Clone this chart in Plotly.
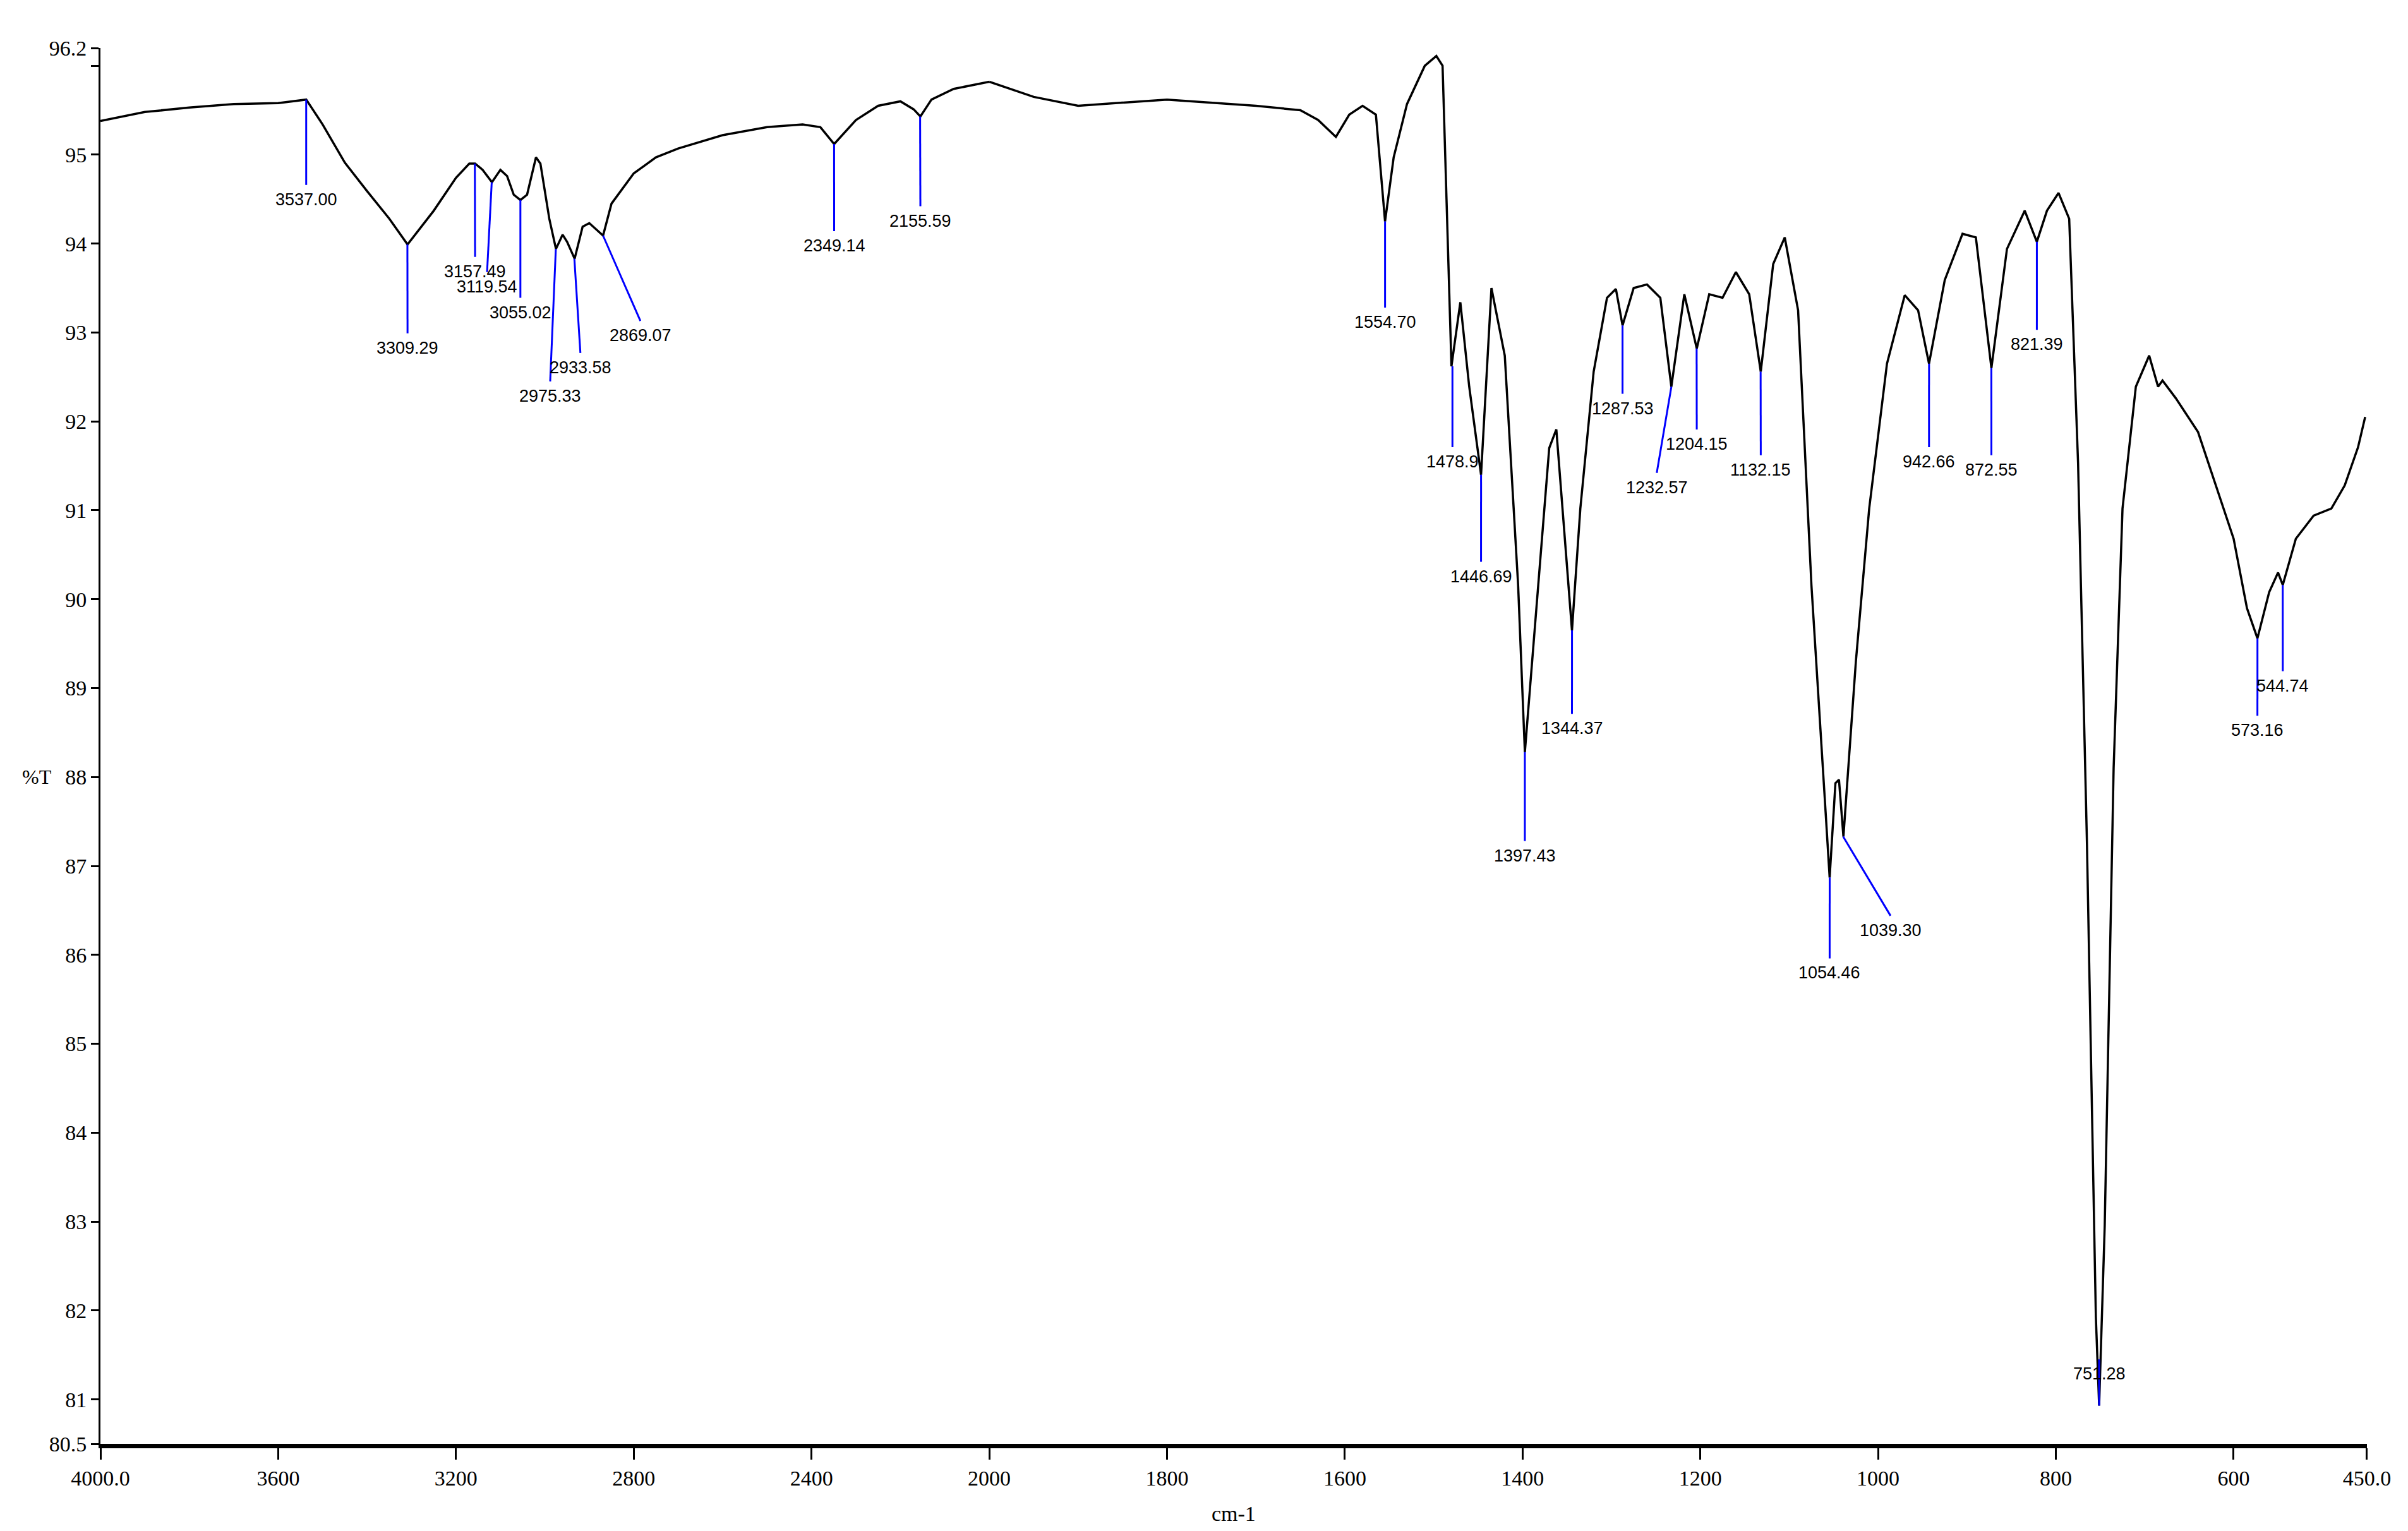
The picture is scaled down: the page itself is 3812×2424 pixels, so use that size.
import plotly.graph_objects as go

# spectrum (wavenumber cm-1, %T)
wn = [4000, 3900, 3800, 3700, 3600, 3537, 3500, 3450, 3400, 3350, 3309, 3250, 3200, 3170,
      3157, 3140, 3119, 3100, 3085, 3070, 3055, 3040, 3020, 3010, 2990, 2975, 2960, 2950,
      2933, 2915, 2900, 2880, 2869, 2850, 2800, 2750, 2700, 2600, 2500, 2420, 2380, 2349,
      2300, 2250, 2200, 2170, 2155, 2130, 2080, 2000,
      1980, 1950, 1900, 1800, 1700, 1650, 1630, 1610, 1595, 1580, 1565, 1554.7, 1545, 1530,
      1510, 1497, 1490, 1480, 1470, 1460, 1446.7, 1435, 1420, 1405, 1397.4, 1385, 1370, 1362,
      1355, 1344.4, 1335, 1320, 1305, 1295, 1287.5, 1275, 1260, 1245, 1232.6, 1218, 1204,
      1190, 1175, 1160, 1145, 1132, 1118, 1105, 1090, 1075, 1060, 1054.5, 1048, 1044, 1039,
      1025, 1010, 990, 970, 955, 942.7, 925, 905, 890, 872.5, 855, 835, 821.4, 810, 797, 785,
      775, 765, 755, 751.3, 745, 735, 725, 710, 695, 685, 680, 665, 640, 620, 600, 585, 573.2,
      560, 550, 544.7, 530, 510, 490, 475, 460, 452]
tr = [95.38, 95.48, 95.53, 95.57, 95.58, 95.62, 95.34, 94.91, 94.59, 94.28, 93.99, 94.37, 94.74, 94.9,
      94.9, 94.83, 94.69, 94.83, 94.76, 94.55, 94.49, 94.55, 94.97, 94.9, 94.28, 93.94, 94.1, 94.02,
      93.83, 94.19, 94.23, 94.14, 94.09, 94.45, 94.79, 94.97, 95.07, 95.22, 95.31, 95.34, 95.31, 95.12,
      95.39, 95.55, 95.6, 95.51, 95.43, 95.62, 95.74, 95.82,
      95.75, 95.65, 95.55, 95.62, 95.55, 95.5, 95.39, 95.2, 95.45, 95.55, 95.45, 94.25, 94.97, 95.57,
      96.0, 96.11, 96.0, 92.62, 93.34, 92.39, 91.4, 93.5, 92.74, 90.16, 88.28, 89.82, 91.7, 91.91,
      91.02, 89.65, 91.02, 92.56, 93.39, 93.49, 93.08, 93.5, 93.54, 93.39, 92.39, 93.43, 92.82,
      93.43, 93.39, 93.68, 93.43, 92.56, 93.77, 94.07, 93.25, 90.16, 87.76, 86.87, 87.93, 87.97, 87.33,
      89.3, 91.02, 92.65, 93.42, 93.25, 92.65, 93.59, 94.11, 94.07, 92.6, 93.94, 94.37, 94.02, 94.37, 94.57, 94.28,
      91.53, 87.25, 81.93, 80.93, 82.96, 88.1, 91.02, 92.39, 92.74, 92.39, 92.46, 92.26, 91.88, 91.28, 90.68, 89.9, 89.56,
      90.08, 90.3, 90.16, 90.68, 90.94, 91.02, 91.28, 91.71, 92.05]

# peak picks: where the blue line starts, where it ends, label text
peak_wn = [3537.00, 3309.29, 3157.49, 3119.54, 3055.02, 2975.33, 2933.58, 2869.07, 2349.14, 2155.59,
           1554.70, 1478.9, 1446.69, 1397.43, 1344.37, 1287.53, 1232.57, 1204.15, 1132.15, 1054.46,
           1039.30, 942.66, 872.55, 821.39, 751.28, 573.16, 544.74]
peak_t = [95.62, 93.99, 94.9, 94.69, 94.49, 93.94, 93.83, 94.09, 95.12, 95.43,
          94.25, 92.62, 91.4, 88.28, 89.65, 93.08, 92.39, 92.82, 92.56, 86.87,
          87.33, 92.65, 92.6, 94.02, 80.93, 89.56, 90.16]
end_wn = [3537, 3309, 3157, 3130, 3055, 2988, 2920, 2785, 2349, 2155,
          1554.7, 1478.9, 1446.7, 1397.4, 1344.4, 1287.5, 1249, 1204, 1132, 1054.5,
          986, 942.7, 872.5, 821.4, 751.3, 573.2, 544.7]
end_t = [94.66, 92.99, 93.85, 93.68, 93.39, 92.45, 92.77, 93.13, 94.14, 94.42,
         93.28, 91.71, 90.42, 87.28, 88.71, 92.31, 91.42, 91.91, 91.62, 85.96,
         86.44, 91.71, 91.62, 93.03, 81.45, 88.69, 89.19]
peak_text = ["3537.00", "3309.29", "3157.49", "3119.54", "3055.02", "2975.33", "2933.58", "2869.07",
             "2349.14", "2155.59", "1554.70", "1478.9", "1446.69", "1397.43", "1344.37", "1287.53",
             "1232.57", "1204.15", "1132.15", "1054.46", "1039.30", "942.66", "872.55", "821.39",
             "751.28", "573.16", "544.74"]

x1_ticks = [4000, 3600, 3200, 2800, 2400]
x1_text = ["4000.0", "3600", "3200", "2800", "2400"]
x2_ticks = [2000, 1800, 1600, 1400, 1200, 1000, 800, 600, 450]
x2_text = ["2000", "1800", "1600", "1400", "1200", "1000", "800", "600", "450.0"]
y_ticks = [80.5, 81, 82, 83, 84, 85, 86, 87, 88, 89, 90, 91, 92, 93, 94, 95, 96, 96.2]
y_text = ["80.5", "81", "82", "83", "84", "85", "86", "87", "88", "89", "90", "91", "92", "93",
          "94", "95", "", "96.2"]

split = 5 / 12.75
serif = "Liberation Serif"
sans = "Liberation Sans"

fig = go.Figure()
hi = [(w, t) for w, t in zip(wn, tr) if w >= 2000]
lo = [(w, t) for w, t in zip(wn, tr) if w <= 2000]
fig.add_trace(go.Scatter(x=[p[0] for p in hi], y=[p[1] for p in hi], mode="lines",
                         line=dict(color="black", width=3.5), xaxis="x", yaxis="y"))
fig.add_trace(go.Scatter(x=[p[0] for p in lo], y=[p[1] for p in lo], mode="lines",
                         line=dict(color="black", width=3.5), xaxis="x2", yaxis="y"))

for w, t, ew, et, txt in zip(peak_wn, peak_t, end_wn, end_t, peak_text):
    xr = "x" if w >= 2000 else "x2"
    fig.add_shape(type="line", xref=xr, yref="y", x0=w, y0=t, x1=ew, y1=et,
                  line=dict(color="blue", width=3))
    fig.add_annotation(x=ew, y=et, xref=xr, yref="y", text=txt, showarrow=False,
                       yanchor="top", yshift=-6, font=dict(family=sans, size=27, color="black"))

fig.add_annotation(x=-0.035, y=88.0, xref="paper", yref="y", text="%T", showarrow=False,
                   font=dict(family=serif, size=32, color="black"))
fig.add_annotation(x=0.5, y=-0.05, xref="paper", yref="paper", text="cm-1", showarrow=False,
                   yanchor="middle", font=dict(family=serif, size=34, color="black"))

axis_common = dict(showgrid=False, zeroline=False, ticks="outside", ticklen=18, tickwidth=3,
                   tickcolor="black", showline=True, linecolor="black", linewidth=7,
                   tickfont=dict(family=serif, size=34, color="black"))
fig.update_layout(
    width=3812, height=2424,
    paper_bgcolor="white", plot_bgcolor="white",
    showlegend=False,
    margin=dict(l=151, r=73, t=68, b=146),
    xaxis=dict(domain=[0, split], range=[4000, 2000], tickvals=x1_ticks, ticktext=x1_text,
               anchor="y", **axis_common),
    xaxis2=dict(domain=[split, 1], range=[2000, 450], tickvals=x2_ticks, ticktext=x2_text,
                anchor="y", **axis_common),
    yaxis=dict(range=[80.5, 96.2], tickvals=y_ticks, ticktext=y_text, showgrid=False,
               zeroline=False, ticks="outside", ticklen=12, tickwidth=3, tickcolor="black",
               showline=True, linecolor="black", linewidth=3,
               tickfont=dict(family=serif, size=34, color="black")),
)

fig.write_html("out.html")
